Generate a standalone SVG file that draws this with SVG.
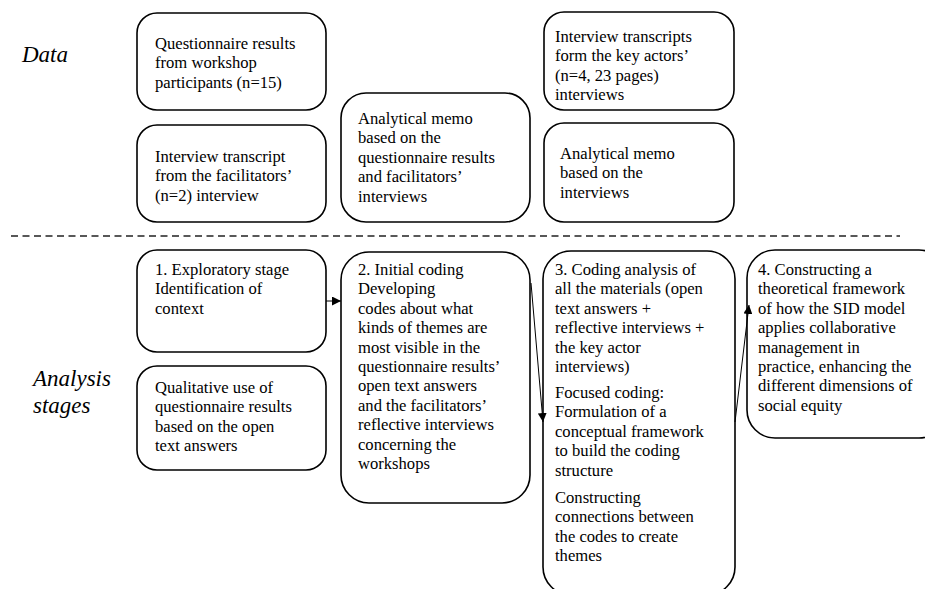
<svg xmlns="http://www.w3.org/2000/svg" width="925" height="589" viewBox="0 0 925 589">
  <style>
    .box { fill: #ffffff; stroke: #000000; stroke-width: 1.6; }
    .t { font-family: "Liberation Serif", "Times New Roman", serif; font-size: 16.6px; fill: #000000; }
    .lbl { font-family: "Liberation Serif", "Times New Roman", serif; font-size: 23px; font-style: italic; fill: #000000; }
    .link { fill: none; stroke: #000000; stroke-width: 1; }
    .sep { stroke: #222222; stroke-width: 1.3; stroke-dasharray: 7 4.5; }
  </style>
  <defs>
    <marker id="arrow" viewBox="0 0 10 10" refX="10" refY="5" markerWidth="9" markerHeight="9" markerUnits="userSpaceOnUse" orient="auto">
      <path d="M0,0 L10,5 L0,10 z" fill="#000000"/>
    </marker>
  </defs>

  <rect width="925" height="589" fill="#ffffff"/>

  <!-- section labels -->
  <text class="lbl" x="22" y="62">Data</text>
  <text class="lbl" x="33" y="386">Analysis</text>
  <text class="lbl" x="33" y="413">stages</text>

  <!-- separator between data and analysis -->
  <line class="sep" x1="11" y1="236" x2="900" y2="236"/>

  <!-- data sources -->
  <g id="questionnaire">
    <rect class="box" x="137" y="13" width="189" height="97" rx="20"/>
    <text class="t" x="155" y="49">Questionnaire results</text>
    <text class="t" x="155" y="68.4">from workshop</text>
    <text class="t" x="155" y="87.8">participants (n=15)</text>
  </g>
  <g id="facilitator-transcript">
    <rect class="box" x="137" y="125" width="189" height="97" rx="20"/>
    <text class="t" x="155" y="162">Interview transcript</text>
    <text class="t" x="155" y="181.4">from the facilitators’</text>
    <text class="t" x="155" y="200.8">(n=2) interview</text>
  </g>
  <g id="memo-questionnaire">
    <rect class="box" x="341" y="93" width="189" height="129" rx="25"/>
    <text class="t" x="358" y="124">Analytical memo</text>
    <text class="t" x="358" y="143.4">based on the</text>
    <text class="t" x="358" y="162.8">questionnaire results</text>
    <text class="t" x="358" y="182.2">and facilitators’</text>
    <text class="t" x="358" y="201.6">interviews</text>
  </g>
  <g id="key-actor-transcripts">
    <rect class="box" x="544" y="12" width="190" height="98" rx="20"/>
    <text class="t" x="555" y="42">Interview transcripts</text>
    <text class="t" x="555" y="61.4">form the key actors’</text>
    <text class="t" x="555" y="80.8">(n=4, 23 pages)</text>
    <text class="t" x="555" y="100.2">interviews</text>
  </g>
  <g id="memo-interviews">
    <rect class="box" x="544" y="123" width="190" height="99" rx="20"/>
    <text class="t" x="560" y="159">Analytical memo</text>
    <text class="t" x="560" y="178.4">based on the</text>
    <text class="t" x="560" y="197.8">interviews</text>
  </g>

  <!-- analysis stages -->
  <g id="stage1">
    <rect class="box" x="137" y="250" width="189" height="102" rx="20"/>
    <text class="t" x="155" y="275">1. Exploratory stage</text>
    <text class="t" x="155" y="294.4">Identification of</text>
    <text class="t" x="155" y="313.8">context</text>
  </g>
  <g id="qualitative-use">
    <rect class="box" x="137" y="366" width="189" height="104" rx="20"/>
    <text class="t" x="155" y="393">Qualitative use of</text>
    <text class="t" x="155" y="412.4">questionnaire results</text>
    <text class="t" x="155" y="431.8">based on the open</text>
    <text class="t" x="155" y="451.2">text answers</text>
  </g>
  <g id="stage2">
    <rect class="box" x="341" y="252" width="189" height="251" rx="28"/>
    <text class="t" x="358" y="275">2. Initial coding</text>
    <text class="t" x="358" y="294.4">Developing</text>
    <text class="t" x="358" y="313.8">codes about what</text>
    <text class="t" x="358" y="333.2">kinds of themes are</text>
    <text class="t" x="358" y="352.6">most visible in the</text>
    <text class="t" x="358" y="372">questionnaire results’</text>
    <text class="t" x="358" y="391.4">open text answers</text>
    <text class="t" x="358" y="410.8">and the facilitators’</text>
    <text class="t" x="358" y="430.2">reflective interviews</text>
    <text class="t" x="358" y="449.6">concerning the</text>
    <text class="t" x="358" y="469">workshops</text>
  </g>
  <g id="stage3">
    <rect class="box" x="543" y="251" width="192" height="344" rx="28"/>
    <text class="t" x="555" y="275">3. Coding analysis of</text>
    <text class="t" x="555" y="294.4">all the materials (open</text>
    <text class="t" x="555" y="313.8">text answers +</text>
    <text class="t" x="555" y="333.2">reflective interviews +</text>
    <text class="t" x="555" y="352.6">the key actor</text>
    <text class="t" x="555" y="372">interviews)</text>
    <text class="t" x="555" y="398">Focused coding:</text>
    <text class="t" x="555" y="417.4">Formulation of a</text>
    <text class="t" x="555" y="436.8">conceptual framework</text>
    <text class="t" x="555" y="456.2">to build the coding</text>
    <text class="t" x="555" y="475.6">structure</text>
    <text class="t" x="555" y="503">Constructing</text>
    <text class="t" x="555" y="522.4">connections between</text>
    <text class="t" x="555" y="541.8">the codes to create</text>
    <text class="t" x="555" y="561.2">themes</text>
  </g>
  <g id="stage4">
    <rect class="box" x="747" y="250" width="200" height="188" rx="28"/>
    <text class="t" x="758" y="275">4. Constructing a</text>
    <text class="t" x="758" y="294.4">theoretical framework</text>
    <text class="t" x="758" y="313.8">of how the SID model</text>
    <text class="t" x="758" y="333.2">applies collaborative</text>
    <text class="t" x="758" y="352.6">management in</text>
    <text class="t" x="758" y="372">practice, enhancing the</text>
    <text class="t" x="758" y="391.4">different dimensions of</text>
    <text class="t" x="758" y="410.8">social equity</text>
  </g>

  <!-- flow between stages -->
  <g id="connectors">
    <line class="link" x1="326" y1="301" x2="341" y2="301" marker-end="url(#arrow)"/>
    <line class="link" x1="531" y1="283" x2="543" y2="422" marker-end="url(#arrow)"/>
    <line class="link" x1="735" y1="422" x2="749" y2="305" marker-end="url(#arrow)"/>
  </g>
</svg>
